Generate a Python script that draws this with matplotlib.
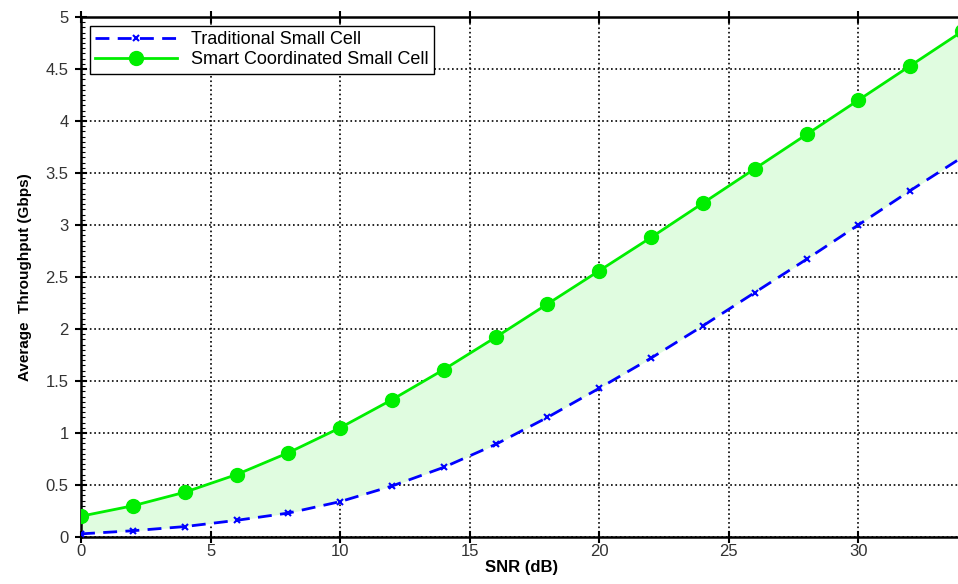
import matplotlib
matplotlib.use("Agg")
import matplotlib.pyplot as plt
from matplotlib.ticker import MultipleLocator, FuncFormatter

plt.rcParams['font.family'] = ['Liberation Sans', 'DejaVu Sans']

# SNR in dB, sampled every 2 dB
snr = [0, 2, 4, 6, 8, 10, 12, 14, 16, 18, 20, 22, 24, 26, 28, 30, 32, 34]

# average throughput in Gbps
traditional = [0.03, 0.06, 0.10, 0.16, 0.23, 0.34, 0.49, 0.67, 0.89, 1.15,
               1.43, 1.72, 2.03, 2.35, 2.67, 3.00, 3.33, 3.65]
smart = [0.20, 0.30, 0.43, 0.60, 0.81, 1.05, 1.32, 1.61, 1.92, 2.24,
         2.56, 2.88, 3.21, 3.54, 3.87, 4.20, 4.53, 4.86]

fig = plt.figure(figsize=(9.58, 5.84), dpi=100)
# right edge deliberately runs past the figure, as in the original
ax = fig.add_axes([0.0846, 0.0805, 0.9196, 0.8905])

ax.fill_between(snr, traditional, smart, color='#e0fce0', zorder=1, linewidth=0)
ax.plot(snr, traditional, color='blue', linestyle='--', linewidth=2,
        dashes=(5, 3), marker='x', markersize=5, markeredgewidth=1.5,
        label='Traditional Small Cell', zorder=3)
ax.plot(snr, smart, color='#00ee00', linestyle='-', linewidth=2,
        marker='o', markersize=10, label='Smart Coordinated Small Cell', zorder=4)

ax.set_xlim(0, 34)
ax.set_ylim(0, 5)
ax.xaxis.set_major_locator(MultipleLocator(5))
ax.yaxis.set_major_locator(MultipleLocator(0.5))
ax.yaxis.set_minor_locator(MultipleLocator(0.05))
ax.yaxis.set_major_formatter(FuncFormatter(lambda v, p: f"{v:g}"))

ax.grid(True, which='major', color='black', linestyle=':', linewidth=1.2)
ax.set_axisbelow(True)

ax.tick_params(axis='both', which='major', direction='inout', length=8, width=1.5,
               labelsize=12, colors='black', labelcolor='#333333', pad=5)
ax.tick_params(axis='x', which='major', pad=1)
ax.tick_params(axis='y', which='minor', direction='in', length=3, width=0.8)
ax.tick_params(axis='x', which='major', top=True)

for side in ['left', 'bottom', 'top']:
    ax.spines[side].set_linewidth(1.8)
ax.spines['right'].set_visible(False)

ax.set_xlabel('SNR (dB)', fontsize=12, fontweight='bold', labelpad=1)
ax.set_ylabel('Average  Throughput (Gbps)', fontsize=11, fontweight='bold', labelpad=10)

leg = ax.legend(loc='upper left', fontsize=13, fancybox=False, framealpha=1,
                edgecolor='black', borderpad=0.3, labelspacing=0.15,
                handlelength=4.5, borderaxespad=0.5)
leg.get_frame().set_linewidth(1.0)

fig.savefig('out.png', dpi=100)
